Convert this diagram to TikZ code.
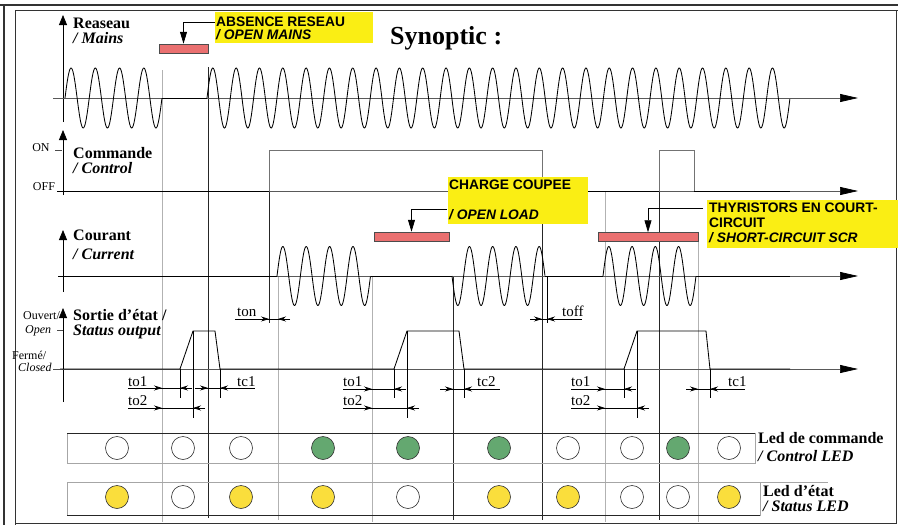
\documentclass[tikz,border=0pt]{standalone}
\usepackage{fontspec}
\setmainfont{Liberation Serif}
\newfontfamily\lsans{Liberation Sans}
\usetikzlibrary{arrows.meta}
\definecolor{ybox}{RGB}{250,238,20}
\definecolor{redbar}{RGB}{234,112,112}
\definecolor{ledgreen}{RGB}{100,168,112}
\definecolor{ledyellow}{RGB}{250,222,60}
\newcommand{\tmark}[5]{%
  \draw[dimline] (#2,#1) -- (#5,#1);
  \draw[dimline,-{Stealth[length=8pt,width=5pt]}] ({#3-12},#1) -- (#3,#1);
  \draw[dimline,-{Stealth[length=8pt,width=5pt]}] ({#4+12},#1) -- (#4,#1);
}
\begin{document}
\begin{tikzpicture}[x=1pt,y=-1pt,
  vaxis/.style={black, line width=0.8pt, -{Triangle[length=10pt,width=8pt]}},
  haxis/.style={black!65, line width=0.7pt, -{Triangle[length=18pt,width=8pt,color=black]}},
  sig/.style={black, line width=0.85pt},
  gsig/.style={black!55, line width=0.8pt},
  gmark/.style={black!30, line width=0.8pt},
  bmark/.style={black!85, line width=0.8pt},
  dimline/.style={black, line width=0.6pt},
  lab/.style={anchor=west, inner sep=0pt, font=\fontsize{16}{18}\selectfont\bfseries},
  labi/.style={anchor=west, inner sep=0pt, font=\fontsize{16}{18}\selectfont\bfseries\itshape},
  sm/.style={inner sep=0pt, font=\fontsize{12}{13}\selectfont},
  smi/.style={inner sep=0pt, font=\fontsize{12}{13}\selectfont\itshape},
  tlab/.style={anchor=base west, inner sep=0pt, font=\fontsize{15}{16}\selectfont},
  ytxt/.style={anchor=west, inner sep=0pt, font=\lsans\bfseries\fontsize{13.8}{15}\selectfont},
  ytxti/.style={anchor=west, inner sep=0pt, font=\lsans\bfseries\itshape\fontsize{13.8}{15}\selectfont},
  bar/.style={draw=black!70, fill=redbar, line width=0.5pt, inner sep=0pt, minimum height=9pt},
  pointer/.style={black, line width=0.8pt, -{Triangle[length=12pt,width=7pt]}},
  led/.style={circle, draw=black!80, line width=0.6pt, minimum size=23pt, inner sep=0pt},
]
\useasboundingbox (0,0) rectangle (898,525);
\fill[white] (0,0) rectangle (898,525);
% frames
\draw[black!80, line width=1.2pt] (0,5) -- (898,5);
\draw[black!80, line width=1.2pt] (4,5) -- (4,525);
\draw[black!80, line width=1pt] (15,525) -- (15,10) -- (898,10);
\draw[black!80, line width=1pt] (896,10) -- (896,523) -- (15,523);

% title
\node[anchor=west, inner sep=0pt, font=\fontsize{26}{28}\selectfont\bfseries] (title) at (390,38) {Synoptic :};

% vertical marker lines
\draw[gmark] (162,70) -- (162,522);
\draw[gmark] (278,276) -- (278,520);
\draw[gmark] (372,276) -- (372,522);
\draw[gmark] (605,191) -- (605,522);
\draw[gmark] (698,241) -- (698,522);
\draw[bmark] (208,67) -- (208,518);
\draw[bmark] (453,276) -- (453,520);
\draw[bmark] (542,150) -- (542,520);
\draw[bmark] (659,150) -- (659,520);
\draw[bmark] (269,191) -- (269,323);
\draw[dimline] (547,276) -- (547,323);

% ---- Mains
\draw[vaxis] (63,122) -- (63,15);
\draw[haxis] (53,98) -- (858,98);
\draw[sig] plot[domain=0:4, samples=160] ({65+24.25*\x},{98-30*sin(360*\x)});
\draw[sig] (162,98) -- (207,98);
\draw[sig] plot[domain=0:25, samples=900] ({207+23.32*\x},{98-30*sin(360*\x)});
\node[lab] (reaseau) at (73,23) {Reaseau};
\node[labi] (mains) at (73,38) {/ Mains};

% ---- Control
\draw[vaxis] (63,195) -- (63,130);
\draw[haxis] (57,191) -- (858,191);
\draw[sig] (57,191) -- (269,191);
\draw[gsig] (269,191) -- (269,150) -- (542,150) -- (542,191);
\draw[sig] (542,191) -- (659,191);
\draw[gsig] (659,191) -- (659,150) -- (694,150) -- (694,191);
\draw[sig] (694,191) -- (790,191);
\draw[black!70, line width=0.6pt] (55,150) -- (62,150);
\node[sm] (on) at (41,148) {ON};
\node[sm] (off) at (44,187) {OFF};
\node[lab] (commande) at (73,153) {Commande};
\node[labi] (control) at (73,168) {/ Control};

% ---- Current
\draw[vaxis] (63,292) -- (63,230);
\draw[haxis] (58,276) -- (858,276);
\draw[sig] (58,276) -- (277,276);
\draw[sig] plot[domain=0:4, samples=160] ({277+23.375*\x},{276-29.5*sin(360*\x)});
\draw[sig] (370.5,276) -- (452,276);
\draw[sig] plot[domain=0:4, samples=160] ({452+23.25*\x},{276+29.5*sin(360*\x)});
\draw[sig] (545,276) -- (603,276);
\draw[sig] plot[domain=0:4, samples=160] ({603+23.25*\x},{276-29.5*sin(360*\x)});
\draw[sig] (696,276) -- (790,276);
\node[lab] (courant) at (73,235) {Courant};
\node[labi] (current) at (73,254) {/ Current};

% ---- Status output
\draw[vaxis] (63,402) -- (63,308);
\draw[haxis] (60,369) -- (858,369);
\draw[sig] (60,369) -- (180,369) -- (193,331) -- (215,331) -- (220,369)
  -- (394,369) -- (407,331) -- (459,331) -- (464,369)
  -- (624,369) -- (637,331) -- (706,331) -- (710,369) -- (790,369);
\draw[black!70, line width=0.6pt] (57,330) -- (63,330);
\draw[black!70, line width=0.6pt] (53,369) -- (62,369);
\node[sm, anchor=west] (ouvert) at (23,316) {Ouvert/};
\node[smi, anchor=west] (open) at (25,331) {Open};
\node[sm, anchor=west] (ferme) at (12,355) {Fermé/};
\node[smi, anchor=west] (closed) at (18,367) {Closed};
\node[lab] (sortie) at (73,315) {Sortie d'état /};
\node[labi] (statusout) at (73,332) {Status output};

% pulse verticals
\foreach \xx in {180,220,394,464,624,710} \draw[dimline] (\xx,369) -- (\xx,398);
\foreach \xx in {193,407,637} \draw[dimline] (\xx,331) -- (\xx,418);

% timing marks
\tmark{388}{128}{162}{180}{192}
\tmark{408}{128}{162}{193}{205}
\tmark{388}{195}{208}{220}{255}
\tmark{389}{343}{372}{394}{406}
\tmark{408}{343}{372}{407}{418}
\tmark{389}{440}{453}{464}{500}
\tmark{389}{571}{605}{624}{636}
\tmark{408}{571}{605}{637}{648}
\tmark{389}{686}{698}{710}{745}
\tmark{319}{235}{269}{278}{290}
\tmark{319}{530}{542}{547}{582}
\node[tlab] (to1a) at (128,386) {to1};
\node[tlab] (to2a) at (128,405) {to2};
\node[tlab] (tc1a) at (237,386) {tc1};
\node[tlab] (to1b) at (343,386) {to1};
\node[tlab] (to2b) at (343,405) {to2};
\node[tlab] (tc2b) at (477,386) {tc2};
\node[tlab] (to1c) at (571,386) {to1};
\node[tlab] (to2c) at (571,405) {to2};
\node[tlab] (tc1c) at (728,386) {tc1};
\node[tlab] (ton) at (237,316) {ton};
\node[tlab] (toff) at (562,316) {toff};

% ---- red bars and yellow labels
\node[bar, minimum width=49pt] (bar1) at (183.5,48.5) {};
\node[bar, minimum width=75pt] (bar2) at (411.5,236.5) {};
\node[bar, minimum width=100pt] (bar3) at (648,237) {};

\fill[ybox] (215,12) rectangle (373,43);
\node[ytxt] (abs) at (216,22) {ABSENCE RESEAU};
\node[ytxti] (openmains) at (216,35) {/ OPEN MAINS};
\coordinate (p1) at (215,22);
\draw[pointer] (p1) -| (bar1.north);

\fill[ybox] (448,177) rectangle (588,224);
\node[ytxt] (charge) at (449,185) {CHARGE COUPEE};
\node[ytxti] (openload) at (449,215) {/ OPEN LOAD};
\coordinate (p2) at (447,209);
\draw[pointer] (p2) -| (bar2.north);

\fill[ybox] (707,200) rectangle (898,248);
\node[ytxt] (thy) at (709,208) {THYRISTORS EN COURT-};
\node[ytxt] (circ) at (709,223) {CIRCUIT};
\node[ytxti] (scr) at (709,238) {/ SHORT-CIRCUIT SCR};
\coordinate (p3) at (703,208);
\draw[pointer] (p3) -| (bar3.north);

% ---- LED rows
\draw[black!35, line width=0.8pt] (67,433) rectangle (755,463);
\draw[black!85, line width=0.9pt] (67,433) -- (755,433);
\draw[black!35, line width=0.8pt] (67,482) rectangle (760,515);
\draw[black!35, line width=0.8pt] (760,482) -- (828,482);
\draw[black!85, line width=0.9pt] (67,515) -- (760,515);

\foreach \xx/\cc [count=\i] in {117/white,183/white,241/white,323/ledgreen,408/ledgreen,499/ledgreen,568/white,632/white,678/ledgreen,729/white}
  \node[led, fill=\cc] (cl\i) at (\xx,448) {};
\foreach \xx/\cc [count=\i] in {117/ledyellow,183/white,241/ledyellow,323/ledyellow,408/white,499/ledyellow,568/ledyellow,632/white,678/white,729/ledyellow}
  \node[led, fill=\cc] (sl\i) at (\xx,497) {};

\node[lab] (ledcmd) at (758,438) {Led de commande};
\node[labi] (ctrlled) at (758,456) {/ Control LED};
\node[lab] (ledetat) at (763,491) {Led d'état};
\node[labi] (statled) at (763,506) {/ Status LED};
\end{tikzpicture}
\end{document}
